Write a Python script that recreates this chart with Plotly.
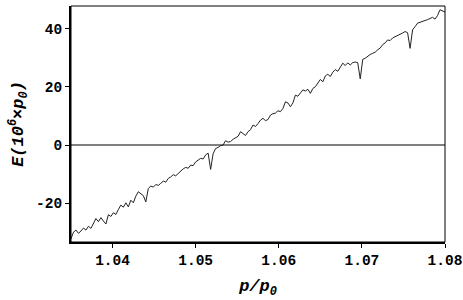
import plotly.graph_objects as go

pressure_ratio = [
    1.0350, 1.0353, 1.0356, 1.0359, 1.0362, 1.0365, 1.0368, 1.0371, 1.0374, 1.0377,
    1.0380, 1.0383, 1.0386, 1.0389, 1.0392, 1.0395, 1.0398, 1.0401, 1.0404, 1.0407,
    1.0410, 1.0413, 1.0416, 1.0419, 1.0422, 1.0425, 1.0428, 1.0431, 1.0434, 1.0437,
    1.0440, 1.0443, 1.0446, 1.0449, 1.0452, 1.0455, 1.0458, 1.0461, 1.0464, 1.0467,
    1.0470, 1.0473, 1.0476, 1.0479, 1.0482, 1.0485, 1.0488, 1.0491, 1.0494, 1.0497,
    1.0500, 1.0503, 1.0506, 1.0509, 1.0512, 1.0515, 1.0518, 1.0521, 1.0524, 1.0527,
    1.0530, 1.0533, 1.0536, 1.0539, 1.0542, 1.0545, 1.0548, 1.0551, 1.0554, 1.0557,
    1.0560, 1.0563, 1.0566, 1.0569, 1.0572, 1.0575, 1.0578, 1.0581, 1.0584, 1.0587,
    1.0590, 1.0593, 1.0596, 1.0599, 1.0602, 1.0605, 1.0608, 1.0611, 1.0614, 1.0617,
    1.0620, 1.0623, 1.0626, 1.0629, 1.0632, 1.0635, 1.0638, 1.0641, 1.0644, 1.0647,
    1.0650, 1.0653, 1.0656, 1.0659, 1.0662, 1.0665, 1.0668, 1.0671, 1.0674, 1.0677,
    1.0680, 1.0683, 1.0686, 1.0689, 1.0692, 1.0695, 1.0698, 1.0701, 1.0704, 1.0707,
    1.0710, 1.0713, 1.0716, 1.0719, 1.0722, 1.0725, 1.0728, 1.0731, 1.0734, 1.0737,
    1.0740, 1.0743, 1.0746, 1.0749, 1.0752, 1.0755, 1.0758, 1.0761, 1.0764, 1.0767,
    1.0770, 1.0773, 1.0776, 1.0779, 1.0782, 1.0785, 1.0788, 1.0791, 1.0794, 1.0797,
    1.0800,
]

energy = [
    -32.3, -30.0, -29.3, -30.4, -29.6, -28.6, -29.3, -28.0, -28.7, -26.8,
    -25.3, -26.4, -25.0, -26.2, -27.2, -24.0, -24.6, -23.3, -23.9, -22.2,
    -20.7, -21.4, -19.9, -21.3, -19.0, -19.9, -17.6, -16.1, -16.9, -17.4,
    -19.6, -15.0, -14.1, -14.5, -13.6, -13.9, -13.2, -12.4, -12.8, -11.5,
    -11.0, -10.2, -10.6, -9.8, -8.8, -8.2, -7.7, -8.0, -6.9, -7.1,
    -5.8, -5.2, -4.6, -4.8, -3.4, -2.8, -8.4, -3.0, -1.2, -0.8,
    -0.2, 0.0, 1.5, 1.0, 1.2, 2.0, 2.5, 3.0, 4.6, 3.9,
    3.3, 4.6, 5.3, 6.9, 6.4, 7.4, 8.6, 9.2, 8.4, 8.8,
    10.3, 10.8, 11.0, 11.8, 11.5, 12.6, 14.9, 14.5, 13.2, 14.5,
    17.2, 16.8, 17.9, 19.0, 18.6, 19.2, 17.8, 19.5, 20.1, 21.4,
    22.6, 21.8, 23.8, 24.4, 23.6, 25.1, 26.0, 25.4, 27.0, 28.2,
    27.4, 28.3, 27.6, 28.4, 28.6, 28.4, 22.8, 29.5, 29.9, 30.6,
    31.2, 31.6, 32.0, 32.8, 33.4, 34.6, 35.2, 36.2, 36.0, 36.9,
    37.3, 37.6, 38.1, 38.6, 39.1, 38.7, 33.3, 39.7, 40.8, 42.0,
    42.3, 42.5, 42.9, 43.2, 43.6, 44.0, 43.4, 44.6, 46.6, 46.3,
    45.8,
]

x_ticks = [1.04, 1.05, 1.06, 1.07, 1.08]
x_tick_labels = ["1.04", "1.05", "1.06", "1.07", "1.08"]
y_ticks = [-20, 0, 20, 40]
y_tick_labels = ["-20", "0", "20", "40"]

mono_bold = dict(family="Liberation Mono", size=14.5, color="black", weight="bold")
title_font = dict(family="Liberation Mono", size=17, color="black", weight="bold", style="italic")

fig = go.Figure()
fig.add_trace(go.Scatter(
    x=pressure_ratio, y=energy, mode="lines",
    line=dict(color="#222222", width=1),
    hoverinfo="skip", showlegend=False,
))

fig.update_layout(
    width=463, height=300,
    margin=dict(l=71, r=18, t=6, b=58),
    paper_bgcolor="white", plot_bgcolor="white",
    showlegend=False,
    shapes=[dict(type="rect", xref="paper", yref="paper", x0=0, x1=1, y0=0, y1=1,
                 line=dict(color="black", width=1), layer="above")],
)

fig.update_xaxes(
    range=[1.035, 1.08], tickvals=x_ticks, ticktext=x_tick_labels,
    ticks="outside", ticklen=4, tickwidth=1, tickcolor="black",
    showline=True, linecolor="black", linewidth=2,
    showgrid=False, zeroline=False, tickfont=mono_bold,
    title=dict(text="<i>p/p<sub>0</sub></i>", font=title_font, standoff=11),
    automargin=False,
)
fig.update_yaxes(
    range=[-33.4, 47.9], tickvals=y_ticks, ticktext=y_tick_labels,
    ticks="outside", ticklen=4, tickwidth=1, tickcolor="black",
    showline=True, linecolor="black", linewidth=2,
    showgrid=False, zeroline=True, zerolinecolor="#808080", zerolinewidth=1.5,
    tickfont=mono_bold,
    title=dict(text="<i>E(10<sup>6</sup>×p<sub>0</sub>)</i>", font=title_font, standoff=8),
    automargin=False,
)

fig.write_html("out.html", config={"displayModeBar": False},
               post_script="document.body.style.margin='0';document.body.style.padding='0';")
